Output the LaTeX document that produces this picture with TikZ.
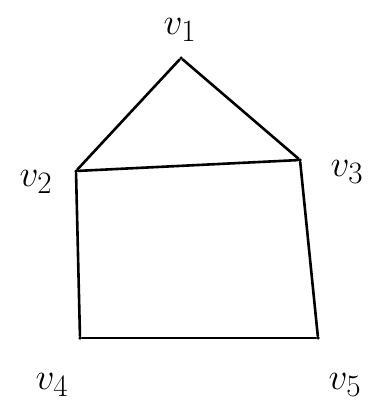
\documentclass[tikz,border=0pt]{standalone}
\begin{document}
\begin{tikzpicture}[x=1pt,y=-1pt,
  vert/.style={circle,fill=black,inner sep=0pt,minimum size=3.5pt},
  lab/.style={font=\Huge,scale=1.5},
  edge/.style={draw=black,line width=2.6pt,line cap=round,line join=round}]
\useasboundingbox (0,0) rectangle (371,420);
\node[vert] (v1) at (181,58) {};
\node[vert] (v2) at (76,171) {};
\node[vert] (v3) at (300,160) {};
\node[vert] (v4) at (80,338) {};
\node[vert] (v5) at (318,338) {};
\node[lab] (l1) at (180,30) {$v_1$};
\node[lab] (l2) at (36,182) {$v_2$};
\node[lab] (l3) at (347,172) {$v_3$};
\node[lab] (l4) at (52,385) {$v_4$};
\node[lab] (l5) at (345,385) {$v_5$};
\draw[edge] (v1) -- (v2);
\draw[edge] (v1) -- (v3);
\draw[edge] (v2) -- (v3);
\draw[edge] (v2) -- (v4);
\draw[edge] (v3) -- (v5);
\draw[edge] (v4) -- (v5);
\end{tikzpicture}
\end{document}
